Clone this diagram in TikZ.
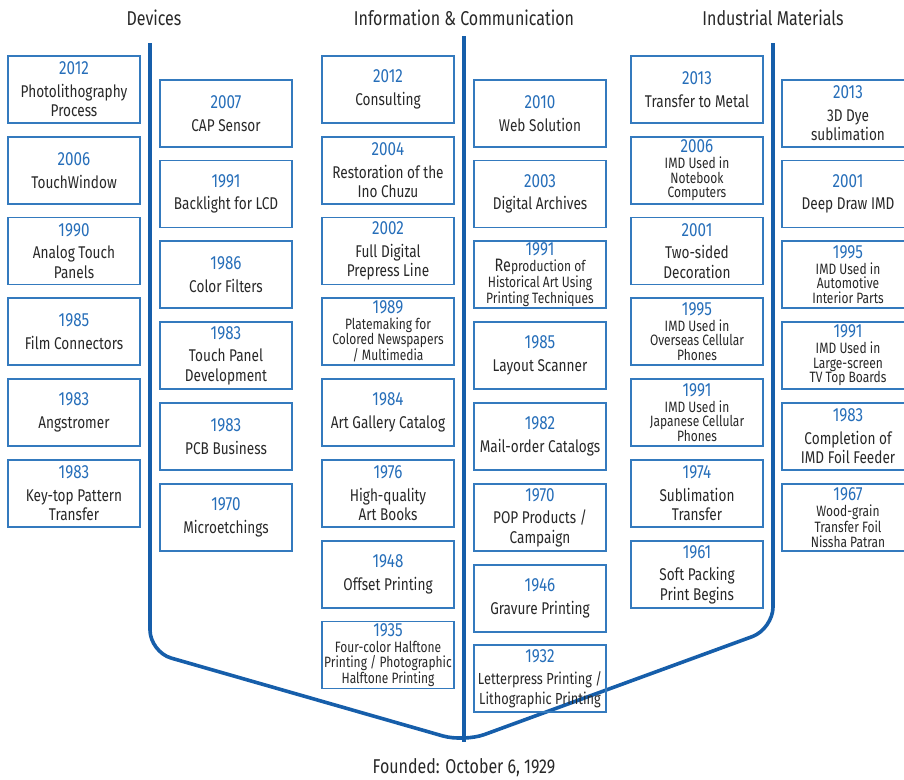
\documentclass[tikz,border=0pt]{standalone}
\usepackage{fontspec}
\setmainfont{Fira Sans}[FakeStretch=0.8]
\definecolor{spineblue}{RGB}{22,94,170}
\definecolor{boxblue}{RGB}{52,122,190}
\definecolor{yearblue}{RGB}{38,110,185}
\definecolor{textgray}{RGB}{40,40,40}
% anno in blu; \yr lascia aria sotto, \yrs di meno
\newcommand{\yrs}[1]{{\color{yearblue}\fontsize{19}{19}\selectfont #1}\\[1.5pt]}
\newcommand{\yr}[1]{{\color{yearblue}\fontsize{19}{19}\selectfont #1}\\[3pt]}
\tikzset{
  evbox/.style={draw=boxblue, line width=1.6pt, minimum width=132pt, minimum height=67pt,
    inner sep=1pt, align=center, text=textgray, font=\fontsize{17}{19.5}\selectfont},
  evsmall/.style={evbox, font=\fontsize{15}{14.5}\selectfont},
  spine/.style={draw=spineblue, line width=3.6pt},
  head/.style={text=textgray, font=\fontsize{20}{22}\selectfont}
}
\begin{document}
\begin{tikzpicture}[x=1pt, y=-1pt]
  \useasboundingbox (0,0) rectangle (904,779);
  \clip (0,0) rectangle (904,779);

  % Titoli delle sezioni
  \node[head] (hdev) at (154,18) {Devices};
  \node[head] (hinfo) at (464,18) {Information \& Communication};
  \node[head] (hind) at (773,18) {Industrial Materials};
  \node[head] (found) at (464,768) {Founded: October 6, 1929};

  % Linee guida
  \coordinate (L0) at (150,43);
  \coordinate (L1) at (150,652);
  \coordinate (C0) at (464,36);
  \coordinate (C1) at (464,742);
  \coordinate (R1) at (773,629);
  \coordinate (R0) at (773,43);
  \draw[spine, rounded corners=22pt] (L0) -- (L1) -- (C1) -- (R1) -- (R0);
  \draw[spine] (C0) -- (C1);

  % Devices - colonna esterna
  \node[evbox] (dev1) at (74,89.5) {\yr{2012}Photolithography\\Process};
  \node[evbox] (dev2) at (74,170.5) {\yr{2006}TouchWindow};
  \node[evbox] (dev3) at (74,251) {\yr{1990}Analog Touch\\Panels};
  \node[evbox] (dev4) at (74,331.5) {\yr{1985}Film Connectors};
  \node[evbox] (dev5) at (74,412.5) {\yr{1983}Angstromer};
  \node[evbox] (dev6) at (74,493.5) {\yr{1983}Key-top Pattern\\Transfer};

  % Devices - colonna interna
  \node[evbox] (dev7) at (226,113.5) {\yr{2007}CAP Sensor};
  \node[evbox] (dev8) at (226,194) {\yr{1991}Backlight for LCD};
  \node[evbox] (dev9) at (226,274.5) {\yr{1986}Color Filters};
  \node[evbox] (dev10) at (226,355.5) {\yr{1983}Touch Panel\\Development};
  \node[evbox] (dev11) at (226,436.5) {\yr{1983}PCB Business};
  \node[evbox] (dev12) at (226,517.5) {\yr{1970}Microetchings};

  % Information & Communication - sinistra
  \node[evbox] (info1) at (388,89.5) {\yr{2012}Consulting};
  \node[evbox] (info2) at (388,170.5) {\yr{2004}Restoration of the\\Ino Chuzu};
  \node[evbox] (info3) at (388,251) {\yr{2002}Full Digital\\Prepress Line};
  \node[evsmall] (info4) at (388,331.5) {\yrs{1989}Platemaking for\\Colored Newspapers\\/ Multimedia};
  \node[evbox] (info5) at (388,412.5) {\yr{1984}Art Gallery Catalog};
  \node[evbox] (info6) at (388,493.5) {\yr{1976}High-quality\\Art Books};
  \node[evbox] (info7) at (388,574.5) {\yr{1948}Offset Printing};
  \node[evsmall] (info8) at (388,655) {\yrs{1935}Four-color Halftone\\Printing / Photographic\\Halftone Printing};

  % Information & Communication - destra
  \node[evbox] (info9) at (540,113.5) {\yr{2010}Web Solution};
  \node[evbox] (info10) at (540,194) {\yr{2003}Digital Archives};
  \node[evsmall] (info11) at (540,274.5) {\yrs{1991}{\fontsize{18}{14.5}\selectfont Re}production of\\Historical Art Using\\Printing Techniques};
  \node[evbox] (info12) at (540,355.5) {\yr{1985}Layout Scanner};
  \node[evbox] (info13) at (540,436.5) {\yr{1982}Mail-order Catalogs};
  \node[evbox] (info14) at (540,517.5) {\yr{1970}POP Products /\\Campaign};
  \node[evbox] (info15) at (540,598.5) {\yr{1946}Gravure Printing};
  \node[evbox, font=\fontsize{16}{19.5}\selectfont] (info16) at (540,678.5) {\yr{1932}Letterpress Printing /\\Lithographic Printing};

  % Industrial Materials - colonna interna
  \node[evbox] (ind1) at (697,89.5) {\yr{2013}Transfer to Metal};
  \node[evsmall] (ind2) at (697,170.5) {\yrs{2006}IMD Used in\\Notebook\\Computers};
  \node[evbox] (ind3) at (697,251) {\yr{2001}Two-sided\\Decoration};
  \node[evsmall] (ind4) at (697,331.5) {\yrs{1995}IMD Used in\\Overseas Cellular\\Phones};
  \node[evsmall] (ind5) at (697,412.5) {\yrs{1991}IMD Used in\\Japanese Cellular\\Phones};
  \node[evbox] (ind6) at (697,493.5) {\yr{1974}Sublimation\\Transfer};
  \node[evbox] (ind7) at (697,574.5) {\yr{1961}Soft Packing\\Print Begins};

  % Industrial Materials - colonna esterna
  \node[evbox] (ind8) at (848,113.5) {\yr{2013}3D Dye\\sublimation};
  \node[evbox] (ind9) at (848,194) {\yr{2001}Deep Draw IMD};
  \node[evsmall] (ind10) at (848,274.5) {\yrs{1995}IMD Used in\\Automotive\\Interior Parts};
  \node[evsmall] (ind11) at (848,355.5) {\yrs{1991}IMD Used in\\Large-screen\\TV Top Boards};
  \node[evbox] (ind12) at (848,436.5) {\yr{1983}Completion of\\IMD Foil Feeder};
  \node[evsmall] (ind13) at (848,517.5) {\yrs{1967}Wood-grain\\Transfer Foil\\Nissha Patran};
\end{tikzpicture}
\end{document}
